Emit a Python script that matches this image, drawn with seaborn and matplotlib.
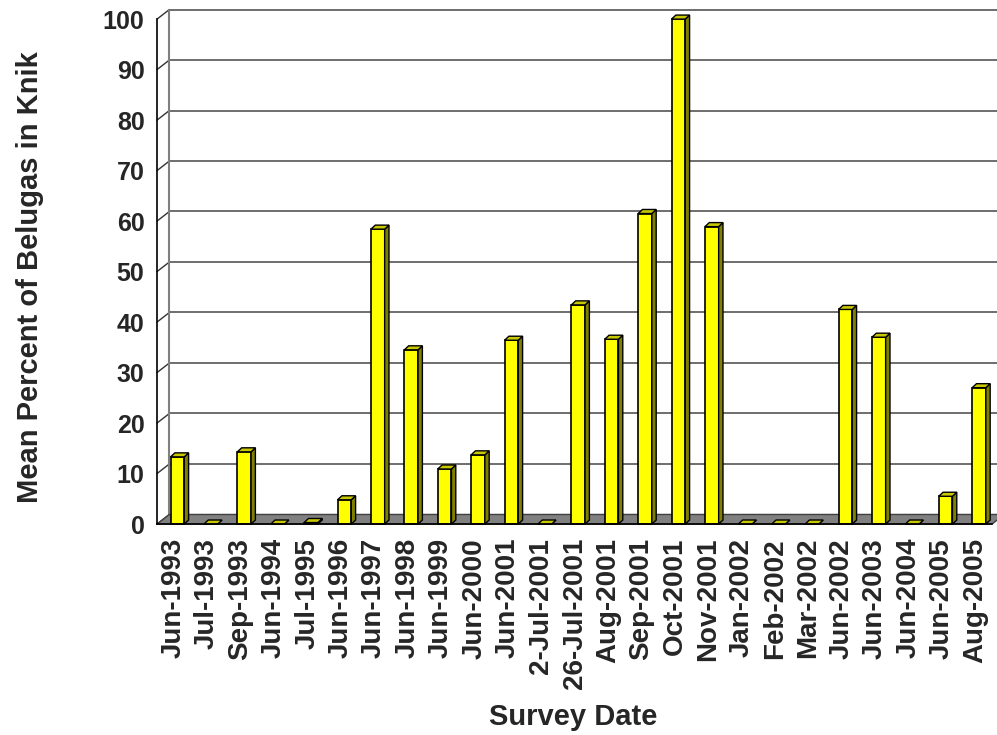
import numpy as np
import pandas as pd
import matplotlib
matplotlib.use("Agg")
import matplotlib.pyplot as plt
from matplotlib.patches import Polygon
import seaborn as sns

survey_dates = ["Jun-1993", "Jul-1993", "Sep-1993", "Jun-1994", "Jul-1995",
                "Jun-1996", "Jun-1997", "Jun-1998", "Jun-1999", "Jun-2000",
                "Jun-2001", "2-Jul-2001", "26-Jul-2001", "Aug-2001", "Sep-2001",
                "Oct-2001", "Nov-2001", "Jan-2002", "Feb-2002", "Mar-2002",
                "Jun-2002", "Jun-2003", "Jun-2004", "Jun-2005", "Aug-2005"]
mean_percent = [13.3, 0, 14.3, 0, 0.3,
                4.8, 58.4, 34.5, 10.9, 13.7,
                36.4, 0, 43.4, 36.6, 61.5,
                100, 58.9, 0, 0, 0,
                42.5, 37.0, 0, 5.5, 27.0]
y_ticks = list(range(0, 101, 10))

sns.set_style("white")
plt.rcParams['font.family'] = ['Liberation Sans', 'DejaVu Sans']
plt.rcParams['font.weight'] = 'bold'

df = pd.DataFrame({"date": survey_dates, "pct": mean_percent})
n = len(survey_dates)

fig = plt.figure(figsize=(9.97, 7.35), dpi=100)
ax = fig.add_axes([0.1575, 0.287, 0.8375, 0.687])
ax.patch.set_alpha(0)

# depth offsets for the fake 3d look (data units)
DX_WALL, DY_WALL = 0.37, 1.9
DX_BAR, DY_BAR = 0.13, 0.8

sns.barplot(data=df, x="date", y="pct", color="#FFFF00", saturation=1,
            width=0.41, edgecolor="black", linewidth=1.2, ax=ax, zorder=3)

bars = list(ax.patches)
for p in bars:
    p.set_x(p.get_x() + 0.11)
    p.set_clip_on(False)
    x0 = p.get_x()
    x1 = x0 + p.get_width()
    h = p.get_height()
    side = Polygon([(x1, 0), (x1 + DX_BAR, DY_BAR), (x1 + DX_BAR, h + DY_BAR), (x1, h)],
                   closed=True, facecolor="#808000", edgecolor="black", lw=1,
                   zorder=3, clip_on=False)
    top = Polygon([(x0, h), (x1, h), (x1 + DX_BAR, h + DY_BAR), (x0 + DX_BAR, h + DY_BAR)],
                  closed=True, facecolor="#C8C800", edgecolor="black", lw=1,
                  zorder=3, clip_on=False)
    ax.add_patch(side)
    ax.add_patch(top)

# floor
ax.add_patch(Polygon([(-0.5, 0), (n - 0.5, 0), (n - 0.5 + DX_WALL, DY_WALL), (-0.5 + DX_WALL, DY_WALL)],
                     closed=True, facecolor="#808080", edgecolor="#404040", lw=1,
                     clip_on=False, zorder=1))

# back wall grid
for v in y_ticks:
    if v > 0:
        ax.plot([-0.5 + DX_WALL, n + 1], [v + DY_WALL] * 2, color="#555555", lw=1.2,
                clip_on=False, zorder=0.5)
    ax.plot([-0.5, -0.5 + DX_WALL], [v, v + DY_WALL], color="#333333", lw=1,
            clip_on=False, zorder=0.5)
ax.plot([-0.5 + DX_WALL] * 2, [DY_WALL, 100 + DY_WALL], color="#808080", lw=1.5,
        clip_on=False, zorder=0.5)

ax.set_xlim(-0.5, n - 0.5)
ax.set_ylim(0, 100)
ax.set_yticks(y_ticks)
ax.set_xticks(range(n))
ax.set_xticklabels(survey_dates, rotation=90, fontsize=20, fontweight="bold")
ax.set_xticks(np.arange(-0.5, n), minor=True)
ax.tick_params(axis="x", which="major", length=0, pad=10)
ax.tick_params(axis="x", which="minor", length=7, width=1, color="black", direction="out")
ax.tick_params(axis="y", length=8, width=1, color="black", direction="out", pad=1, labelsize=18)
for lab in ax.get_yticklabels():
    lab.set_fontweight("bold")

ax.set_xlabel("")
ax.set_ylabel("")
ax.grid(False)
for s in ["top", "right"]:
    ax.spines[s].set_visible(False)
for s in ["left", "bottom"]:
    ax.spines[s].set_color("black")
    ax.spines[s].set_linewidth(1.2)
    ax.spines[s].set_zorder(4)

fig.text(30 / 997, 1 - 277 / 735, "Mean Percent of Belugas in Knik", rotation=90,
         ha="center", va="center", fontsize=21, fontweight="bold")
fig.text(573 / 997, 1 - 717 / 735, "Survey Date", ha="center", va="center",
         fontsize=21, fontweight="bold")

fig.savefig("out.png", dpi=100)
